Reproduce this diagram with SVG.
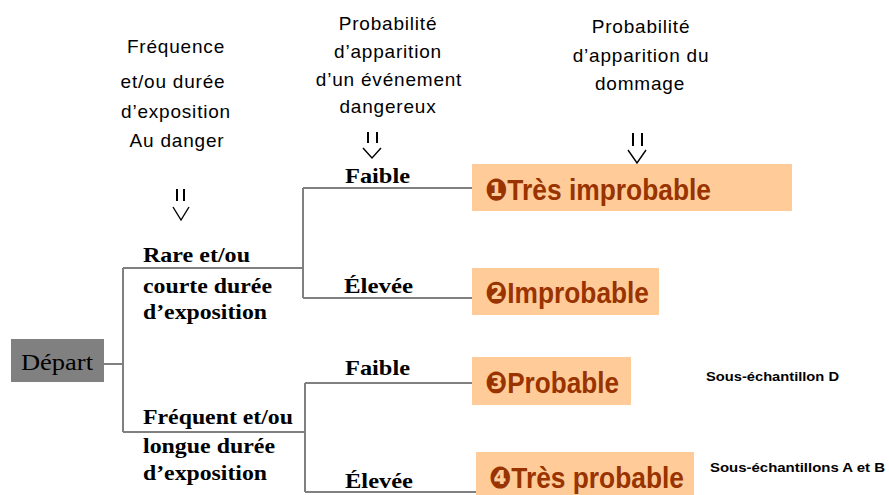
<svg xmlns="http://www.w3.org/2000/svg" width="889" height="495" viewBox="0 0 889 495">
<style>
.hd{font-family:"Liberation Sans",Arial,sans-serif;font-size:19px;letter-spacing:0.8px;fill:#000;text-anchor:middle}
.lb{font-family:"Liberation Serif","Times New Roman",serif;font-size:21px;font-weight:bold;fill:#000}
.res{font-family:"Liberation Sans","DejaVu Sans",Arial,sans-serif;font-size:30px;font-weight:bold;fill:#993300}
.sub{font-family:"Liberation Sans",Arial,sans-serif;font-size:13px;font-weight:bold;fill:#000}
.box{fill:#FFCC99}
.ln{fill:none;stroke:#808080;stroke-width:2}
.ar{fill:none;stroke:#000;stroke-width:1.4}
.bar{fill:none;stroke:#000;stroke-width:2}
</style>
<rect width="889" height="495" fill="#fff"/>
<g id="headers">
<text class="hd" x="176" y="53">Fréquence</text>
<text class="hd" x="173" y="88">et/ou durée</text>
<text class="hd" x="176" y="118">d’exposition</text>
<text class="hd" x="177" y="147">Au danger</text>
<path class="bar" d="M177 189V201M184 189V201"/>
<path class="ar" d="M173 207L181 220L189 207"/>
<text class="hd" x="388" y="30">Probabilité</text>
<text class="hd" x="388" y="58">d’apparition</text>
<text class="hd" x="389" y="86">d’un événement</text>
<text class="hd" x="388" y="113">dangereux</text>
<path class="bar" d="M368 132V143M377 132V143"/>
<path class="ar" d="M363 148L372 158L381 148"/>
<text class="hd" x="641" y="33">Probabilité</text>
<text class="hd" x="641" y="62">d’apparition du</text>
<text class="hd" x="640" y="90">dommage</text>
<path class="bar" d="M633 133V146M642 133V146"/>
<path class="ar" d="M628 150L637 163L646 150"/>
</g>
<g id="connectors">
<path class="ln" d="M104 364H123"/>
<path class="ln" d="M123 268V432"/>
<path class="ln" d="M123 268H303"/>
<path class="ln" d="M123 432H305"/>
<path class="ln" d="M303 188V298"/>
<path class="ln" d="M303 188H472"/>
<path class="ln" d="M303 298H472"/>
<path class="ln" d="M305 383V492"/>
<path class="ln" d="M305 383H472"/>
<path class="ln" d="M305 492H476"/>
</g>
<g id="depart">
<rect x="11" y="339" width="93" height="43" fill="#808080"/>
<text x="21" y="370" textLength="72" lengthAdjust="spacingAndGlyphs" font-family="'Liberation Serif','Times New Roman',serif" font-size="24" fill="#000">Départ</text>
</g>
<g id="branch-labels">
<text class="lb" x="143" y="262" textLength="107" lengthAdjust="spacingAndGlyphs">Rare et/ou</text>
<text class="lb" x="143" y="293" textLength="129" lengthAdjust="spacingAndGlyphs">courte durée</text>
<text class="lb" x="143" y="319" textLength="124" lengthAdjust="spacingAndGlyphs">d’exposition</text>
<text class="lb" x="143" y="424" textLength="150" lengthAdjust="spacingAndGlyphs">Fréquent et/ou</text>
<text class="lb" x="143" y="453" textLength="132" lengthAdjust="spacingAndGlyphs">longue durée</text>
<text class="lb" x="143" y="480" textLength="124" lengthAdjust="spacingAndGlyphs">d’exposition</text>
<text class="lb" x="345" y="183" textLength="65" lengthAdjust="spacingAndGlyphs">Faible</text>
<text class="lb" x="344" y="293" textLength="69" lengthAdjust="spacingAndGlyphs">Élevée</text>
<text class="lb" x="345" y="375" textLength="65" lengthAdjust="spacingAndGlyphs">Faible</text>
<text class="lb" x="345" y="488" textLength="68" lengthAdjust="spacingAndGlyphs">Élevée</text>
</g>
<g id="r1">
<rect class="box" x="472" y="164" width="320" height="47"/>
<text class="res" x="485" y="200" textLength="226" lengthAdjust="spacingAndGlyphs">❶Très improbable</text>
</g>
<g id="r2">
<rect class="box" x="472" y="268" width="187" height="47"/>
<text class="res" x="485" y="303" textLength="164" lengthAdjust="spacingAndGlyphs">❷Improbable</text>
</g>
<g id="r3">
<rect class="box" x="472" y="357" width="159" height="48"/>
<text class="res" x="485" y="393" textLength="134" lengthAdjust="spacingAndGlyphs">❸Probable</text>
</g>
<g id="r4">
<rect class="box" x="476" y="452" width="218" height="50"/>
<text class="res" x="489" y="488" textLength="195" lengthAdjust="spacingAndGlyphs">❹Très probable</text>
</g>
<g id="notes">
<text class="sub" x="706" y="381" textLength="133" lengthAdjust="spacingAndGlyphs">Sous-échantillon D</text>
<text class="sub" x="710" y="472" textLength="175" lengthAdjust="spacingAndGlyphs">Sous-échantillons A et B</text>
</g>
</svg>
